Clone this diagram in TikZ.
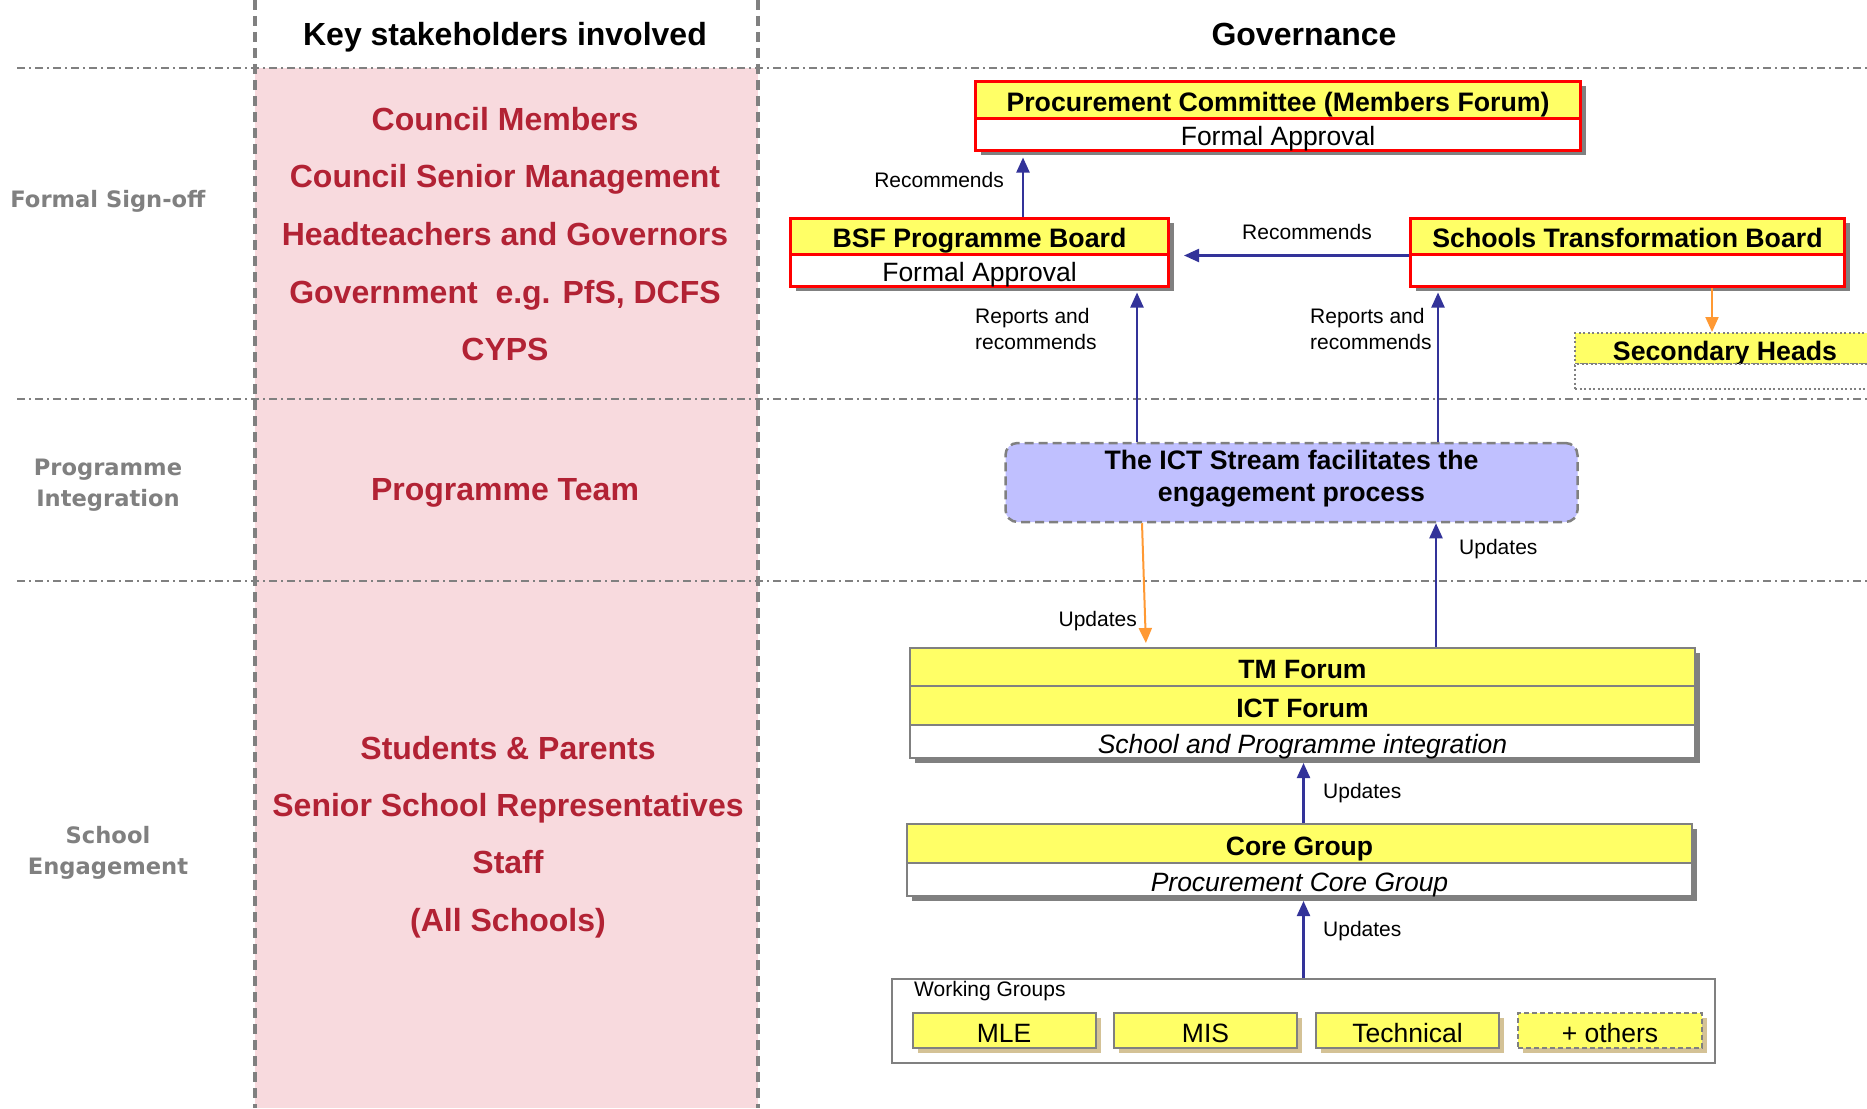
\documentclass[tikz,border=0pt]{standalone}
\usepackage{fontspec}
\setmainfont{Liberation Sans}
\newfontfamily\dejavu{DejaVu Sans}
\usetikzlibrary{arrows.meta,shadows}
\definecolor{navyc}{RGB}{51,51,153}
\definecolor{orangec}{RGB}{255,153,51}
\definecolor{yel}{RGB}{255,255,102}
\definecolor{pinkc}{RGB}{248,218,222}
\definecolor{redtxt}{RGB}{178,34,52}
\definecolor{lav}{RGB}{192,192,255}
\definecolor{grayc}{RGB}{128,128,128}
\definecolor{tanc}{RGB}{212,194,150}
\definecolor{boxred}{RGB}{255,0,0}
\begin{document}
\begin{tikzpicture}[x=1pt,y=-1pt,
  hdr/.style={font=\bfseries\fontsize{32}{38}\selectfont, text height=22.9pt, text depth=0pt},
  sidelbl/.style={font=\dejavu\bfseries\fontsize{22.6}{31}\selectfont, text=grayc, align=center},
  stake/.style={font=\bfseries\fontsize{32}{38}\selectfont, text=redtxt, text height=22.9pt, text depth=0pt},
  shdw/.style={drop shadow={shadow xshift=5pt, shadow yshift=-5pt, fill=grayc, opacity=1}},
  tshdw/.style={drop shadow={shadow xshift=5pt, shadow yshift=-5pt, fill=tanc, opacity=1}},
  rowtxt/.style={text height=23.4pt, text depth=0pt},
  rtop/.style={shdw, rowtxt, draw=boxred, line width=3pt, fill=yel, inner sep=0pt, font=\bfseries\fontsize{26.7}{30}\selectfont},
  rbot/.style={shdw, rowtxt, draw=boxred, line width=3pt, fill=white, inner sep=0pt, font=\fontsize{26.5}{30}\selectfont},
  gtop/.style={shdw, rowtxt, draw=grayc, line width=2pt, fill=yel, inner sep=0pt, font=\bfseries\fontsize{26.5}{30}\selectfont},
  gbot/.style={shdw, rowtxt, draw=grayc, line width=2pt, fill=white, inner sep=0pt, font=\itshape\fontsize{26.5}{30}\selectfont},
  wbox/.style={tshdw, rowtxt, draw=grayc, line width=2pt, fill=yel, inner sep=0pt, minimum height=35pt, font=\fontsize{26.5}{30}\selectfont},
  dotbox/.style={draw=grayc, line width=2pt, dash pattern=on 2pt off 2.5pt, inner sep=0pt, minimum width=300pt},
  lbl/.style={font=\fontsize{21}{26}\selectfont, inner sep=0pt},
  navyarr/.style={draw=navyc, line width=2.2pt, -{Triangle[length=15pt,width=13pt]}},
  orarr/.style={draw=orangec, line width=2pt, -{Triangle[length=15pt,width=13pt]}},
  divl/.style={draw=grayc, line width=1.5pt, dash pattern=on 8pt off 4pt on 2pt off 4pt},
  vdash/.style={draw=grayc, line width=3.5pt, dash pattern=on 10pt off 6pt}
]
\useasboundingbox (0,0) rectangle (1867,1108);
\clip (0,0) rectangle (1867,1108);
\fill[white] (0,0) rectangle (1867,1108);
% pink column
\fill[pinkc] (255,68) rectangle (758,1108);
% dividers
\draw[divl] (17,68) -- (1867,68);
\draw[divl] (17,399) -- (1867,399);
\draw[divl] (17,581) -- (1867,581);
\draw[vdash] (255,0) -- (255,1108);
\draw[vdash] (758,0) -- (758,1108);

% headers
\node[hdr] (h1) at (505,34) {Key stakeholders involved};
\node[hdr] (h2) at (1304,34) {Governance};

% side labels
\node[sidelbl] (s1) at (108,201.5) {Formal Sign-off};
\node[sidelbl] (s2) at (108,485.5) {Programme\\Integration};
\node[sidelbl] (s3) at (108,853) {School\\Engagement};

% stakeholders
\node[stake] (k1) at (505,119) {Council Members};
\node[stake] (k2) at (505,176.5) {Council Senior Management};
\node[stake] (k3) at (505,234.5) {Headteachers and Governors};
\node[stake] (k4) at (505,292) {Government~ e.g. PfS, DCFS};
\node[stake] (k5) at (505,349) {CYPS};
\node[stake] (k6) at (505,489.5) {Programme Team};
\node[stake] (k7) at (508,748) {Students \& Parents};
\node[stake] (k8) at (508,805) {Senior School Representatives};
\node[stake] (k9) at (508,862) {Staff};
\node[stake] (k10) at (508,920) {(All Schools)};

% Procurement committee
\node[rtop, minimum width=605pt, minimum height=37pt] (pct) at (1278,99.5) {Procurement Committee (Members Forum)};
\node[rbot, minimum width=605pt, minimum height=32pt] (pcb) at (1278,134) {Formal Approval};
% BSF
\node[rtop, minimum width=378pt, minimum height=36pt] (bsft) at (979.5,236) {BSF Programme Board};
\node[rbot, minimum width=378pt, minimum height=32pt] (bsfb) at (979.5,270) {Formal Approval};
% STB
\node[rtop, minimum width=434pt, minimum height=36pt] (stbt) at (1627.5,236) {Schools Transformation Board};
\node[rbot, minimum width=434pt, minimum height=32pt] (stbb) at (1627.5,270) {};
% Secondary heads
\node[dotbox, rowtxt, fill=yel, minimum height=31pt, font=\bfseries\fontsize{26.7}{30}\selectfont] (sht) at (1725,348.5) {Secondary Heads};
\node[dotbox, fill=white, minimum height=25pt] (shb) at (1725,376.5) {};
% ICT stream
\node[draw=grayc, line width=2.5pt, dash pattern=on 9pt off 5pt, rounded corners=12pt, fill=lav,
  minimum width=572pt, minimum height=79pt, inner sep=0pt] (ict) at (1291.5,482.5) {};
\node[align=center, inner sep=0pt, font=\bfseries\fontsize{26.7}{32}\selectfont] (ictt) at (1291.5,479) {The ICT Stream facilitates the\\engagement process};
% TM / ICT forum
\node[gtop, minimum width=785pt, minimum height=38pt] (tm) at (1302.5,667) {TM Forum};
\node[gtop, minimum width=785pt, minimum height=39pt] (ictf) at (1302.5,705.5) {ICT Forum};
\node[gbot, minimum width=785pt, minimum height=33pt] (tmi) at (1302.5,741.5) {School and Programme integration};
% Core group
\node[gtop, minimum width=785pt, minimum height=39pt] (core) at (1299.5,843.5) {Core Group};
\node[gbot, minimum width=785pt, minimum height=33pt] (coreb) at (1299.5,879.5) {Procurement Core Group};
% Working groups
\node[draw=grayc, line width=2pt, fill=white, minimum width=823pt, minimum height=84pt, inner sep=0pt] (wg) at (1303.5,1021) {};
\node[lbl, anchor=west] (wgl) at (914,991) {Working Groups};
\node[wbox, minimum width=183pt] (mle) at (1004,1030.5) {MLE};
\node[wbox, minimum width=183pt] (mis) at (1205.5,1030.5) {MIS};
\node[wbox, minimum width=183pt] (tech) at (1407.5,1030.5) {Technical};
\node[wbox, minimum width=184pt, dash pattern=on 5pt off 3pt] (oth) at (1610,1030.5) {+ others};

% x positions of connectors
\coordinate (xa) at (1023,0);
\coordinate (xb) at (1137,0);
\coordinate (xc) at (1438,0);
\coordinate (xd) at (1712,0);
\coordinate (xe) at (1142,0);
\coordinate (xf) at (1146,0);
\coordinate (xg) at (1436,0);
\coordinate (xh) at (1303.5,0);

% connectors
\draw[navyarr, shorten >=6pt] (bsft.north -| xa) -- (pcb.south -| xa);
\draw[navyarr, shorten >=14pt] (stbt.south west) -- (bsft.south east);
\draw[navyarr, shorten >=5pt] (ict.north -| xb) -- (bsfb.south -| xb);
\draw[navyarr, shorten >=5pt] (ict.north -| xc) -- (stbb.south -| xc);
\draw[orarr] (stbb.south -| xd) -- (sht.north -| xd);
\draw[orarr, shorten >=4pt] (ict.south -| xe) -- (tm.north -| xf);
\draw[navyarr] (tm.north -| xg) -- (ict.south -| xg);
\draw[navyarr, shorten >=4pt] (core.north -| xh) -- (tmi.south -| xh);
\draw[navyarr, shorten >=4pt] (wg.north -| xh) -- (coreb.south -| xh);

% connector labels
\node[lbl, anchor=east] (l1) at (1004,180) {Recommends};
\node[lbl] (l2) at (1307,232) {Recommends};
\node[lbl, anchor=west, align=left] (l3) at (975,329) {Reports and\\recommends};
\node[lbl, anchor=west, align=left] (l4) at (1310,329) {Reports and\\recommends};
\node[lbl, anchor=east] (l5) at (1137,621) {Updates};
\node[lbl, anchor=west] (l6) at (1459,549) {Updates};
\node[lbl, anchor=west] (l7) at (1323,793) {Updates};
\node[lbl, anchor=west] (l8) at (1323,931) {Updates};
\end{tikzpicture}
\end{document}
